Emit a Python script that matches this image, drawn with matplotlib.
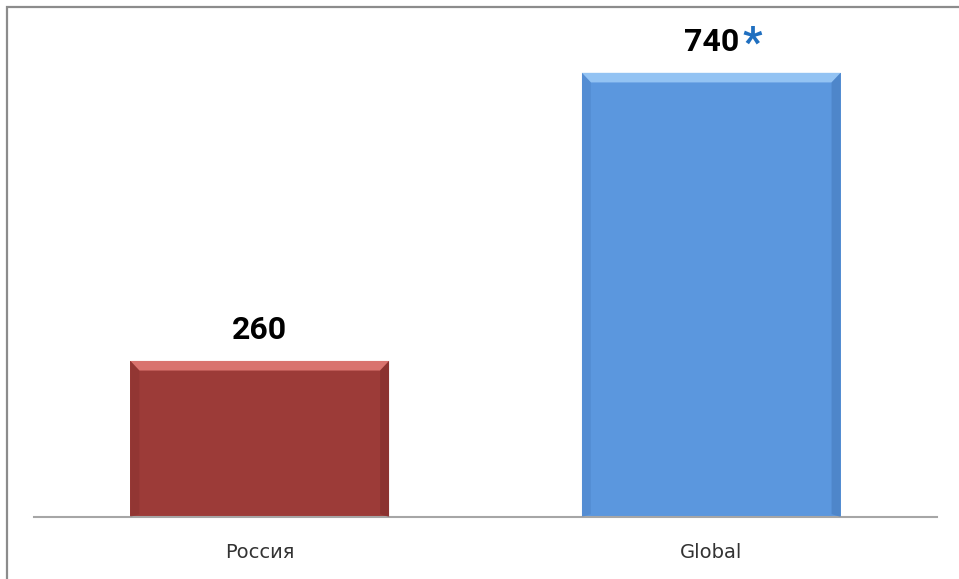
import matplotlib.pyplot as plt
from matplotlib.patches import Polygon, Rectangle

# ---- data ----
categories = ["Россия", "Global"]
values = [260, 740]
value_labels = ["260", "740"]
footnote_marks = ["", "*"]
bar_colors = ["#9c3b38", "#5b97de"]
top_colors = ["#d9736e", "#93c3f3"]
side_colors = ["#7e2c2a", "#4579bb"]

fig = plt.figure(figsize=(9.59, 5.79), dpi=100)
ax = fig.add_axes([34 / 959, 62 / 579, 903 / 959, 509 / 579])

x = list(range(len(categories)))
bars = ax.bar(x, values, width=0.573, color=bar_colors, zorder=2)

# simple bevel: light strip on top, darker strips on the sides
bx, by = 0.02, 16
for b, tc, sc in zip(bars, top_colors, side_colors):
    x0, w, h = b.get_x(), b.get_width(), b.get_height()
    x1 = x0 + w
    ax.add_patch(Polygon([(x0, h), (x1, h), (x1 - bx, h - by), (x0 + bx, h - by)],
                         closed=True, color=tc, lw=0, zorder=3))
    ax.add_patch(Polygon([(x1, h), (x1, 0), (x1 - bx, by * 0.3), (x1 - bx, h - by)],
                         closed=True, color=sc, lw=0, alpha=0.55, zorder=3))
    ax.add_patch(Polygon([(x0, h), (x0, 0), (x0 + bx, by * 0.3), (x0 + bx, h - by)],
                         closed=True, color=sc, lw=0, alpha=0.3, zorder=3))

# value labels
for xi, v, lab, mark in zip(x, values, value_labels, footnote_marks):
    ax.annotate(lab, (xi, v), xytext=(0, 16), textcoords="offset points",
                ha="center", va="baseline", fontsize=23, fontweight="bold",
                family="Roboto", color="black")
    if mark:
        ax.annotate(mark, (xi, v), xytext=(22.5, 12.5), textcoords="offset points",
                    ha="left", va="baseline", fontsize=31, fontweight="bold",
                    family="Roboto", color="#1f6fc0")

ax.set_xlim(-0.5, 1.5)
ax.set_ylim(0, 848)
ax.set_xticks(x)
ax.set_xticklabels(categories, family="DejaVu Sans", fontsize=14, color="#333333")
ax.tick_params(axis="x", length=0, pad=19)
ax.set_yticks([])
for s in ["top", "left", "right"]:
    ax.spines[s].set_visible(False)
ax.spines["bottom"].set_color("#a6a6a6")
ax.spines["bottom"].set_linewidth(1.5)
ax.patch.set_alpha(0)

# outer chart border (left and top visible)
fig.patches.append(Rectangle((7 / 959, -0.05), 1.1, 1 - 7 / 579 + 0.05,
                             transform=fig.transFigure, fill=False,
                             edgecolor="#8c8c8c", linewidth=1.6))

fig.savefig("out.png", dpi=100)
